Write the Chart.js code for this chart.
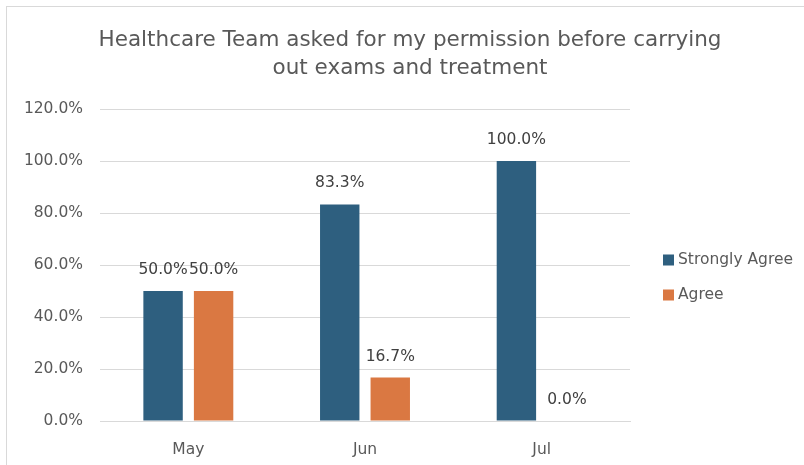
<!DOCTYPE html>
<html>
<head>
<meta charset="utf-8">
<script src="https://cdn.jsdelivr.net/npm/chart.js@4/dist/chart.umd.min.js"></script>
<style>
  html, body { margin: 0; padding: 0; background: #fff; }
  #frame {
    position: absolute; left: 6px; top: 6px;
    width: 820px; height: 480px;
    border: 1px solid #d9d9d9;
  }
  #wrap { position: absolute; left: 0; top: 0; width: 804px; height: 465px; }
</style>
</head>
<body>
<div id="frame"></div>
<div id="wrap"><canvas id="chart" width="804" height="465"></canvas></div>
<script>
const TITLE_LINES = ["Healthcare Team asked for my permission before carrying", "out exams and treatment"];
const months = ["May", "Jun", "Jul"];
const stronglyAgree = [50.0, 83.3, 100.0];
const agree = [50.0, 16.7, 0.0];
const yTicks = [0, 20, 40, 60, 80, 100, 120];

const FONT = "'DejaVu Sans', sans-serif";
const TEXT = "#595959";
const LABEL_SIZE = 15.5;

function pct(v) {
  return Number(v).toFixed(1) + "%";
}

// title + legend drawn at fixed spots, labels above bars
const decorations = {
  id: "decorations",
  afterDatasetsDraw(chart) {
    const ctx = chart.ctx;
    ctx.save();
    ctx.fillStyle = "#404040";
    ctx.font = LABEL_SIZE + "px " + FONT;
    ctx.textAlign = "center";
    ctx.textBaseline = "middle";
    chart.data.datasets.forEach((ds, i) => {
      const meta = chart.getDatasetMeta(i);
      meta.data.forEach((bar, j) => {
        ctx.fillText(pct(ds.data[j]), bar.x, bar.y - 21);
      });
    });
    ctx.restore();
  },
  afterDraw(chart) {
    const ctx = chart.ctx;
    ctx.save();
    ctx.fillStyle = TEXT;
    ctx.font = "21.5px " + FONT;
    ctx.textAlign = "center";
    ctx.textBaseline = "middle";
    TITLE_LINES.forEach((line, i) => ctx.fillText(line, 410, 40 + i * 28));

    ctx.font = LABEL_SIZE + "px " + FONT;
    ctx.textAlign = "left";
    chart.data.datasets.forEach((ds, i) => {
      const y = 260 + i * 35;
      ctx.fillStyle = ds.backgroundColor;
      ctx.fillRect(663, y - 5.5, 11, 11);
      ctx.fillStyle = TEXT;
      ctx.fillText(ds.label, 678, y);
    });
    ctx.restore();
  }
};

new Chart(document.getElementById("chart"), {
  type: "bar",
  data: {
    labels: months,
    datasets: [
      { label: "Strongly Agree", data: stronglyAgree, backgroundColor: "#2e5f7f" },
      { label: "Agree", data: agree, backgroundColor: "#da7842" }
    ]
  },
  options: {
    responsive: false,
    animation: false,
    layout: { padding: { left: 0, right: 174, top: 109, bottom: 0 } },
    datasets: { bar: { categoryPercentage: 0.572, barPercentage: 0.78 } },
    plugins: { legend: { display: false }, title: { display: false }, tooltip: { enabled: false } },
    scales: {
      x: {
        grid: { display: false },
        border: { display: true, color: "#d9d9d9", width: 1 },
        ticks: { color: TEXT, font: { family: FONT, size: LABEL_SIZE }, padding: 12 },
        afterFit(scale) { scale.height = 44; }
      },
      y: {
        min: 0,
        max: 120,
        afterBuildTicks(scale) { scale.ticks = yTicks.map(v => ({ value: v })); },
        grid: { color: "#d9d9d9", drawTicks: false },
        border: { display: false },
        ticks: { color: TEXT, font: { family: FONT, size: LABEL_SIZE }, padding: 17, callback: v => pct(v) },
        afterFit(scale) { scale.width = 100; }
      }
    }
  },
  plugins: [decorations]
});
</script>
</body>
</html>
